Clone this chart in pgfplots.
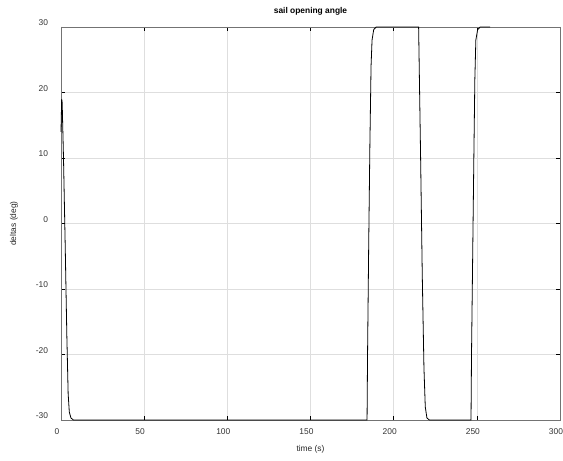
\documentclass[border=0pt]{standalone}
\usepackage{fontspec}
\setmainfont{Liberation Sans}
\usepackage{pgfplots}
\pgfplotsset{compat=1.18}
\begin{document}
\fontsize{8.4bp}{10bp}\selectfont
\begin{tikzpicture}
\begin{axis}[
  at={(61bp,41bp)}, anchor=south west,
  scale only axis, width=499bp, height=393bp,
  xmin=0, xmax=300, ymin=-30, ymax=30,
  xtick={0,50,...,300}, ytick={-30,-20,...,30},
  grid=major, major grid style={black!13, line width=0.5bp},
  axis line style={black!55, line width=0.9bp},
  tick style={black, line width=0.6bp}, major tick length=4bp,
  tick align=inside, xtick pos=both, ytick pos=both,
  ticklabel style={font=\fontsize{8.4bp}{10bp}\selectfont, text=black!80},
  xticklabel style={anchor=center, yshift=-12bp, xshift=-4bp},
  yticklabel style={anchor=east, xshift=-10bp, yshift=4bp},
  /pgf/number format/assume math mode=true,
  title={\bfseries sail opening angle},
  every axis title/.style={at={(axis description cs:0.5,1.041)}, anchor=center, font=\fontsize{8.4bp}{10bp}\selectfont},
  xlabel={time (s)}, ylabel={deltas (deg)},
  every axis x label/.style={at={(axis description cs:0.5,-0.0738)}, anchor=center, font=\fontsize{8.4bp}{10bp}\selectfont, text=black!85},
  every axis y label/.style={at={(axis description cs:-0.0942,0.5)}, anchor=center, rotate=90, font=\fontsize{8.4bp}{10bp}\selectfont, text=black!85},
  clip=false,
]
\addplot[black, line width=0.8bp] coordinates {
(0,14) (0.4,19) (0.7,18.5) (1.5,10) (2.5,-3) (3.5,-17) (4.3,-26) (5,-28.8) (6,-29.7) (7.5,-30)
(184,-30) (184.3,-20) (185,-3) (185.7,12) (186.4,24) (187,28) (188,29.6) (189.5,30) (215,30)
(215.3,25) (216.2,10) (217.2,-8) (218.2,-22) (219,-28) (220,-29.7) (221.5,-30) (246.5,-30)
(246.8,-20) (247.5,-5) (248.2,10) (248.8,22) (249.4,28) (250.5,29.6) (252,30) (258,30)
};
\end{axis}
\pgfresetboundingbox
\useasboundingbox (0,0) rectangle (563bp,461bp);
\end{tikzpicture}
\end{document}
